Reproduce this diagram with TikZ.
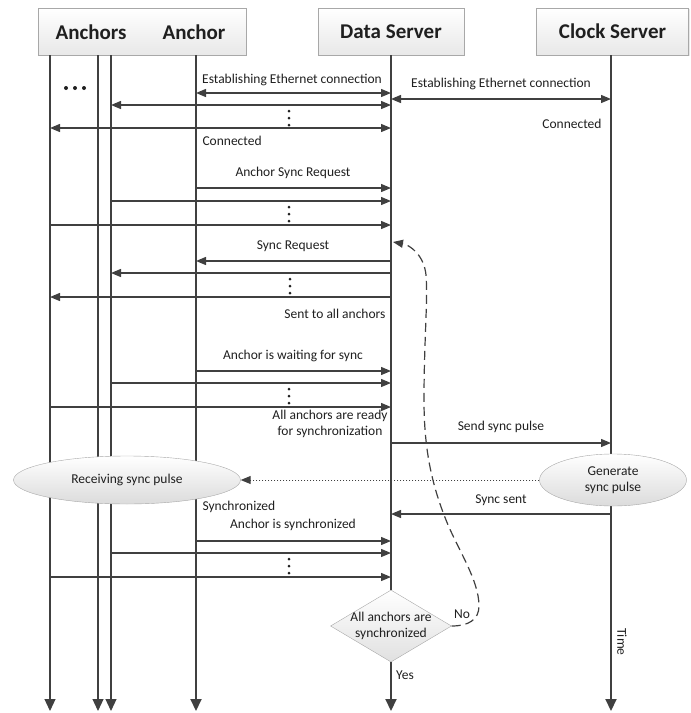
\documentclass[tikz,border=0pt]{standalone}
\usepackage{fontspec}
\setmainfont{Carlito}
\usetikzlibrary{arrows.meta,shapes.geometric,shadows}

\definecolor{linegray}{HTML}{404040}
\definecolor{textgray}{HTML}{1F1F1F}
\definecolor{edgegray}{HTML}{A8A8A8}

\tikzset{
    headbox/.style={draw=edgegray, rectangle, minimum height=47,
        top color=white, bottom color=black!9,
        drop shadow={opacity=0.18, shadow xshift=1.2pt, shadow yshift=-1.2pt},
        font=\fontsize{21}{23}\selectfont\bfseries},
    title/.style={font=\fontsize{21}{23}\selectfont\bfseries},
    lifeline/.style={draw=linegray, line width=1.2pt,
        -{Triangle[length=12pt,width=11pt]}},
    msg/.style={draw=linegray, line width=1.3pt,
        -{Triangle[length=10pt,width=8pt]}},
    twoway/.style={draw=linegray, line width=1.3pt,
        {Triangle[length=10pt,width=8pt]}-{Triangle[length=10pt,width=8pt]}},
    bubble/.style={ellipse, draw=edgegray, inner sep=0pt,
        top color=white, bottom color=black!14, align=center},
    decision/.style={diamond, draw=edgegray, inner sep=0pt,
        minimum width=121, minimum height=72,
        top color=white, bottom color=black!12},
}

% three stacked dots between message arrows
\newcommand{\vdotsat}[2]{%
    \foreach \k in {0,1,2}
        \fill[textgray] (#1,#2+\k*7) circle (1.5);
}

\begin{document}
\begin{tikzpicture}[x=1pt,y=-1pt,
    every node/.style={font=\fontsize{13.5}{15.5}\selectfont, text=textgray}]
    \useasboundingbox (0,0) rectangle (691,713);

    % Header boxes
    \node[headbox, minimum width=208] (anchbox) at (142,31.5) {};
    \node[title] (anchors) at (91,32) {Anchors};
    \node[title] (anchor) at (194,32) {Anchor};
    \node[headbox, minimum width=146] (ds) at (391,31.5) {Data Server};
    \node[headbox, minimum width=152] (cs) at (612.5,31.5) {Clock Server};

    % Decision on the data server line
    \node[decision] (dec) at (391,626) {};
    \node[align=center] (dectext) at (dec.center) {All anchors are\\synchronized};

    % Lifelines
    \foreach \x in {50,98,111}
        \draw[lifeline] (anchbox.south -| \x,0) -- (\x,711);
    \draw[lifeline, line width=2pt] (anchbox.south -| 196,0) -- (196,711);
    \draw[draw=linegray, line width=2pt] (ds.south) -- (dec.north);
    \draw[lifeline, line width=2pt] (dec.south) -- (391,711);
    \draw[lifeline, line width=2pt] (cs.south -| 611,0) -- (611,711);
    \node (yes) at (405,675) {Yes};
    \node[rotate=-90] (time) at (622,642) {Time};

    % More anchors
    \foreach \x in {66,75,84}
        \fill[textgray] (\x,88) circle (2);

    % Connection set-up
    \node (eth1) at (292,80) {Establishing Ethernet connection};
    \draw[twoway] (196,93) -- (391,93);
    \node (eth2) at (501,84) {Establishing Ethernet connection};
    \draw[twoway] (391,99) -- (611,99);
    \draw[twoway] (111,105) -- (391,105);
    \vdotsat{289}{111}
    \draw[twoway] (50,128) -- (391,128);
    \node[anchor=west] (conn1) at (199,141) {Connected};
    \node[anchor=east] (conn2) at (605,124) {Connected};

    % Anchor sync requests
    \node (asr) at (293,173) {Anchor Sync Request};
    \draw[msg] (196,188) -- (391,188);
    \draw[msg] (111,201) -- (391,201);
    \vdotsat{289}{207}
    \draw[msg] (50,225) -- (391,225);

    % Sync request to every anchor
    \node (sreq) at (293,246) {Sync Request};
    \draw[msg] (391,261) -- (196,261);
    \draw[msg] (391,273) -- (111,273);
    \vdotsat{290}{279}
    \draw[msg] (391,297) -- (50,297);
    \node[anchor=east] (sent) at (389,314) {Sent to all anchors};

    % Anchors waiting
    \node (wait) at (293,356) {Anchor is waiting for sync};
    \draw[msg] (196,371) -- (391,371);
    \draw[msg] (111,383) -- (391,383);
    \vdotsat{289}{389}
    \draw[msg] (50,407) -- (391,407);
    \node[align=center] (ready) at (330,424) {All anchors are ready\\for synchronization};
    \node (pulse) at (501,427) {Send sync pulse};
    \draw[msg] (391,443) -- (611,443);

    % Sync pulse
    \node[bubble, minimum width=227, minimum height=48] (recv) at (127,480) {Receiving sync pulse};
    \node[bubble, minimum width=147, minimum height=52] (gen) at (613,480) {Generate\\sync pulse};
    \draw[draw=linegray, line width=1pt, dotted,
        -{Triangle[length=10pt,width=8pt]}] (gen.west) -- (recv.east);
    \node[anchor=west] (synced) at (199,507) {Synchronized};
    \node (ssent) at (501,500) {Sync sent};
    \draw[msg] (611,514) -- (391,514);

    % Anchors synchronized
    \node (done) at (293,525) {Anchor is synchronized};
    \draw[msg] (196,541) -- (391,541);
    \draw[msg] (111,553) -- (391,553);
    \vdotsat{289}{559}
    \draw[msg] (50,577) -- (391,577);

    % Loop back when not all anchors are synchronized
    \coordinate (again) at (393,242);
    \draw[draw=linegray, line width=1.2pt, dash pattern=on 9pt off 5pt,
        -{Triangle[length=10pt,width=8pt]}]
        (dec.east) .. controls (468,626) and (479,620) .. (479,606)
        .. controls (479,580) and (458,550) .. (446,520)
        .. controls (432,485) and (424,450) .. (424,400)
        .. controls (424,340) and (428,300) .. (426,275)
        .. controls (424,255) and (410,245) .. (again);
    \node (no) at (462,614) {No};
\end{tikzpicture}
\end{document}
